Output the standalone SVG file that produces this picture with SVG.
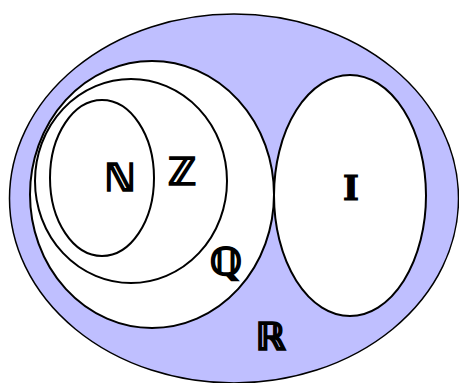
<svg xmlns="http://www.w3.org/2000/svg" width="459" height="383" viewBox="0 0 459 383">
<style>
.set{fill:#ffffff;stroke:#000000;stroke-width:2}
.outer{fill:#bfbfff;stroke:#000000;stroke-width:1.5}
.lbl{font-family:"DejaVu Sans",sans-serif;font-weight:bold;font-size:38px;fill:#000000;stroke:#000000;stroke-width:1.6;text-anchor:middle}
.lblI{font-family:"DejaVu Serif",serif;font-weight:bold;font-size:34px;fill:#000000;stroke:#000000;stroke-width:1.2;text-anchor:middle}
</style>
<rect width="459" height="383" fill="#ffffff"/>
<g id="R">
<ellipse class="outer" cx="234" cy="198.5" rx="224.5" ry="184.5"/>
<text class="lbl" x="270.5" y="350">ℝ</text>
</g>
<g id="Q">
<ellipse class="set" cx="152" cy="194.5" rx="122" ry="133.5"/>
<text class="lbl" x="226" y="275">ℚ</text>
</g>
<g id="Z">
<ellipse class="set" cx="131" cy="181" rx="96" ry="102"/>
<text class="lbl" x="182" y="185">ℤ</text>
</g>
<g id="N">
<ellipse class="set" cx="102" cy="178" rx="52" ry="78"/>
<text class="lbl" x="120" y="191">ℕ</text>
</g>
<g id="I">
<ellipse class="set" cx="350" cy="195.5" rx="76" ry="120.5"/>
<text class="lblI" x="351" y="199.5">I</text>
</g>
<g id="connectors"></g>
</svg>
